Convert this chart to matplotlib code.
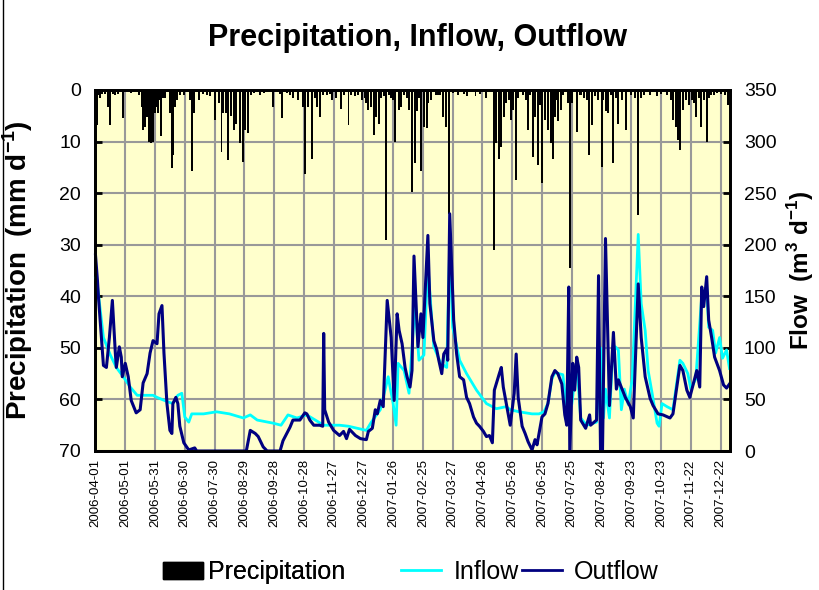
import matplotlib
matplotlib.use('Agg')
import matplotlib.pyplot as plt
import numpy as np
import pandas as pd
from matplotlib.patches import Patch
from matplotlib.lines import Line2D

plt.rcParams['font.family'] = 'Liberation Sans'
plt.rcParams['mathtext.fontset'] = 'custom'
plt.rcParams['mathtext.rm'] = 'Liberation Sans'
plt.rcParams['mathtext.bf'] = 'Liberation Sans:bold'

# days counted from 2006-04-01
start = pd.Timestamp('2006-04-01')

rain_day = [2, 4, 5, 7, 10, 13, 15, 18, 20, 23, 28, 36, 44, 47, 48, 50, 52, 54, 56, 58,
            60, 62, 63, 65, 66, 68, 70, 75, 77, 78, 80, 82, 85, 89, 95, 97, 99, 104, 108, 112,
            115, 120, 124, 127, 129, 132, 134, 137, 140, 142, 146, 149, 151, 154, 157, 160, 166, 170, 179, 186,
            188, 193, 196, 199, 204, 209, 211, 214, 218, 221, 223, 226, 229, 233, 236, 238, 242, 247, 250, 255,
            258, 262, 265, 269, 272, 273, 275, 278, 281, 283, 286, 288, 291, 293, 296, 298, 300, 302, 306, 308,
            311, 314, 316, 319, 322, 324, 326, 328, 331, 334, 335, 338, 343, 345, 347, 350, 353, 356, 360, 365,
            371, 374, 383, 388, 394, 402, 404, 407, 409, 412, 414, 417, 419, 421, 424, 426, 431, 434, 436, 438,
            441, 443, 446, 448, 450, 453, 456, 459, 461, 463, 465, 466, 469, 471, 476, 478, 480, 485, 488, 489,
            492, 495, 497, 500, 503, 506, 510, 512, 515, 517, 520, 522, 525, 527, 531, 535, 540, 544, 547, 550,
            553, 559, 566, 570, 576, 580, 582, 585, 587, 589, 592, 595, 598, 601, 603, 605, 608, 610, 613, 616,
            618, 620, 623, 626, 630, 634, 637]
rain_mm = [6.8, 1.0, 1.5, 0.8, 0.8, 3.2, 6.8, 0.8, 1.0, 0.7, 5.5, 0.5, 1.0, 3.2, 7.8, 7.1, 5.2, 10.0, 10.3, 10.0,
           4.5, 3.2, 4.5, 2.0, 9.0, 1.5, 1.5, 4.5, 15.2, 12.6, 3.2, 2.0, 1.0, 1.0, 2.0, 15.8, 4.5, 2.0, 0.8, 1.0,
           1.2, 5.8, 2.5, 12.0, 4.5, 4.5, 13.6, 5.0, 7.8, 6.5, 10.3, 13.9, 7.8, 8.4, 1.0, 0.6, 1.0, 0.5, 3.2, 0.8,
           5.5, 0.6, 1.0, 1.5, 2.0, 3.2, 16.2, 3.2, 13.3, 1.5, 3.2, 5.2, 1.0, 1.0, 0.8, 2.0, 1.5, 3.6, 1.0, 6.8,
           1.0, 1.2, 1.0, 2.0, 1.5, 2.6, 3.9, 3.2, 8.7, 5.2, 6.5, 1.5, 1.2, 29.1, 1.0, 1.5, 2.0, 10.0, 3.9, 3.2,
           1.0, 1.5, 3.9, 19.7, 14.2, 4.0, 1.5, 15.8, 7.1, 7.4, 2.6, 2.0, 1.0, 1.0, 1.0, 5.2, 7.1, 24.0, 0.5, 1.0,
           0.8, 1.2, 1.2, 0.8, 1.5, 31.0, 10.3, 13.3, 11.0, 5.2, 2.6, 2.0, 5.8, 3.9, 17.5, 1.5, 1.0, 2.0, 7.8, 1.0,
           12.9, 5.2, 14.6, 3.0, 18.1, 5.8, 7.8, 10.3, 13.3, 5.2, 2.0, 6.1, 3.9, 1.0, 2.6, 34.6, 2.6, 8.1, 1.0, 1.0,
           1.5, 2.0, 12.6, 6.8, 1.2, 2.0, 14.9, 2.0, 4.0, 4.5, 1.0, 14.2, 1.5, 6.5, 2.0, 7.8, 1.0, 1.5, 24.3, 1.5,
           1.0, 1.0, 1.2, 0.8, 1.0, 2.0, 5.8, 7.1, 9.7, 11.6, 3.9, 2.0, 3.0, 2.0, 2.6, 5.2, 1.5, 7.1, 2.0, 10.0,
           1.5, 1.0, 1.0, 0.6, 0.8, 1.0, 3.0]

in_day = [0, 2, 8, 15, 21, 28, 35, 42, 52, 58, 62, 72, 78, 83, 87, 90, 94, 97, 109, 122,
          135, 149, 156, 163, 179, 187, 194, 203, 213, 230, 246, 255, 273, 278, 287, 295, 300, 303, 305, 311,
          316, 322, 326, 331, 335, 341, 348, 354, 357, 360, 367, 374, 384, 394, 404, 414, 418, 427, 440, 447,
          452, 456, 460, 463, 471, 475, 480, 485, 489, 495, 505, 509, 512, 514, 518, 521, 524, 527, 530, 533,
          537, 541, 547, 550, 554, 557, 561, 566, 568, 571, 576, 582, 589, 592, 597, 600, 605, 611, 616, 618,
          622, 625, 629, 632, 636, 639]
in_flow = [168, 160, 110, 93, 81, 72, 62, 54, 54, 54, 52, 48, 46, 54, 56, 33, 28, 36, 36, 38,
           36, 32, 35, 30, 27, 25, 35, 32, 35, 25, 25, 24, 20, 28, 40, 72, 46, 25, 85, 78,
           56, 143, 88, 93, 180, 101, 85, 81, 200, 120, 88, 75, 59, 46, 41, 43, 40, 38, 36, 36,
           38, 46, 70, 76, 74, 40, 45, 85, 32, 25, 28, 100, 32, 60, 32, 90, 101, 98, 40, 60,
           45, 70, 210, 143, 117, 78, 56, 27, 24, 46, 43, 40, 88, 85, 75, 60, 70, 150, 159, 120,
           117, 95, 110, 90, 98, 80]

out_day = [0, 2, 3, 8, 11, 14, 17, 20, 21, 24, 26, 27, 30, 33, 36, 41, 45, 48, 52, 55,
           58, 62, 64, 67, 69, 72, 75, 77, 78, 81, 83, 85, 89, 94, 100, 102, 152, 156, 161, 164,
           169, 173, 186, 189, 196, 199, 206, 211, 213, 216, 220, 226, 229, 230, 231, 235, 240, 246, 250, 253,
           256, 262, 267, 273, 275, 279, 282, 284, 287, 290, 294, 298, 301, 304, 306, 309, 312, 314, 317, 319,
           321, 325, 328, 330, 335, 337, 341, 344, 346, 349, 351, 354, 355, 357, 361, 364, 367, 371, 374, 377,
           381, 384, 387, 391, 394, 397, 400, 402, 407, 409, 411, 414, 418, 422, 424, 426, 430, 433, 436, 440,
           443, 445, 450, 453, 456, 460, 463, 466, 470, 473, 475, 477, 478, 481, 483, 485, 487, 489, 494, 498,
           499, 505, 507, 509, 511, 514, 518, 520, 522, 525, 527, 534, 539, 542, 547, 550, 554, 559, 562, 567,
           572, 579, 582, 585, 589, 592, 596, 599, 606, 609, 611, 613, 616, 618, 621, 624, 629, 633, 636, 639]
out_flow = [190, 165, 149, 83, 81, 110, 146, 95, 81, 101, 91, 72, 85, 72, 49, 37, 40, 66, 75, 95,
            107, 104, 133, 141, 95, 46, 20, 17, 46, 52, 46, 24, 8, 1, 3, 0, 0, 20, 17, 14,
            4, 0, 0, 10, 23, 30, 30, 37, 36, 30, 25, 25, 24, 114, 40, 28, 20, 15, 19, 12,
            21, 15, 12, 11, 19, 22, 40, 36, 49, 43, 146, 110, 49, 133, 117, 104, 81, 72, 62, 78,
            189, 101, 133, 110, 209, 143, 107, 98, 88, 75, 94, 99, 88, 230, 127, 94, 72, 69, 52, 46,
            33, 27, 24, 19, 14, 15, 8, 59, 75, 81, 62, 46, 25, 56, 94, 52, 24, 17, 9, 1,
            11, 6, 33, 36, 46, 72, 78, 75, 65, 35, 25, 159, 0, 85, 59, 91, 81, 30, 22, 35,
            25, 30, 170, 0, 0, 206, 44, 80, 115, 60, 69, 52, 43, 32, 162, 110, 72, 51, 44, 36,
            35, 32, 36, 56, 83, 78, 59, 52, 78, 62, 159, 140, 169, 127, 110, 91, 78, 64, 61, 65]

tick_days = np.arange(0, 631, 30)
tick_labels = [(start + pd.Timedelta(days=int(d))).strftime('%Y-%m-%d') for d in tick_days]

fig = plt.figure(figsize=(8.19, 5.9), dpi=100)
ax = fig.add_axes([95 / 819, 1 - 451 / 590, 635 / 819, 361 / 590])
ax.set_facecolor('#FFFFCC')
ax.bar(rain_day, rain_mm, width=2.0, color='black', zorder=2)
ax.set_xlim(-0.5, 639.5)
ax.set_ylim(70, 0)
ax.set_yticks(range(0, 71, 10))
ax.set_xticks(tick_days)
ax.set_xticklabels(tick_labels, rotation=90, fontsize=9.5)
ax.grid(True, color='#999999', linewidth=1.5)
ax.set_axisbelow(True)
ax.tick_params(axis='y', direction='in', length=5, width=2, labelsize=14, pad=10)
ax.tick_params(axis='x', length=0, pad=6)
for s in ax.spines.values():
    s.set_linewidth(2)
ax.set_ylabel('Precipitation  (mm d$^{\\mathbf{-1}}$)', fontsize=20, fontweight='bold')
ax.yaxis.set_label_coords(-0.094, 0.5)

ax2 = ax.twinx()
ax2.plot(in_day, in_flow, color='#00FFFF', lw=2.0, clip_on=False)
ax2.plot(out_day, out_flow, color='#000080', lw=2.2, clip_on=False)
ax2.set_ylim(0, 350)
ax2.set_yticks(range(0, 351, 50))
ax2.tick_params(axis='y', direction='in', length=5, width=2, labelsize=14, pad=10)
for s in ax2.spines.values():
    s.set_linewidth(2)
ax2.set_ylabel('Flow  (m$^{\\mathbf{3}}$ d$^{\\mathbf{-1}}$)', fontsize=17.5, fontweight='bold')
ax2.yaxis.set_label_coords(1.086, 0.5)

fig.text(418 / 819, 1 - 38 / 590, 'Precipitation, Inflow, Outflow', ha='center', va='center',
         fontsize=22, fontweight='bold')

leg1 = fig.legend(handles=[Patch(facecolor='black', edgecolor='black', label='Precipitation')],
                  loc='center', bbox_to_anchor=(254 / 819, 1 - 572 / 590), frameon=False,
                  fontsize=18, handlelength=1.6, handletextpad=0.2, borderpad=0)
leg2 = fig.legend(handles=[Line2D([], [], color='#00FFFF', lw=2, label='Inflow'),
                           Line2D([], [], color='#000080', lw=2, label='Outflow')],
                  loc='center', bbox_to_anchor=(530 / 819, 1 - 572 / 590), frameon=False, ncol=2,
                  fontsize=18, handlelength=1.6, handletextpad=0.5, columnspacing=0.1, borderpad=0)
fig.add_artist(leg1)

fig.add_artist(Line2D([2.5 / 819, 2.5 / 819], [0, 1], transform=fig.transFigure, color='black', lw=1))

fig.savefig('out.png', dpi=100)
